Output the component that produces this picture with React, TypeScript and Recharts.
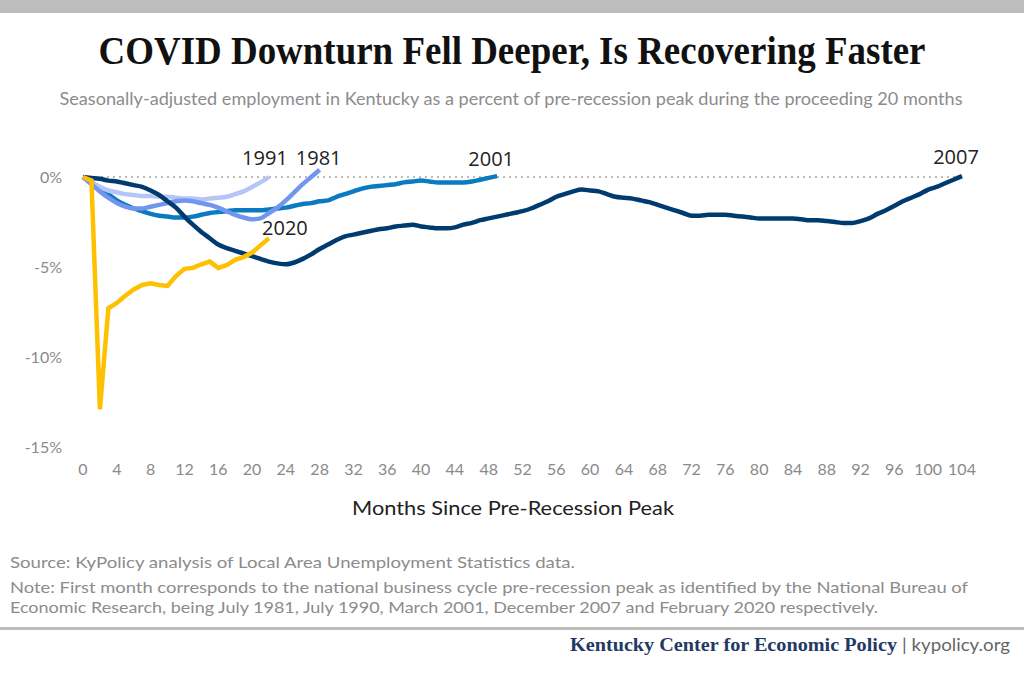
import { LineChart, Line, XAxis, YAxis, ReferenceLine } from 'recharts';

// percent of pre-recession peak employment, one value per month since the peak
const y1981 = [
  0, -0.4, -0.8, -1.15, -1.45, -1.65, -1.75, -1.75, -1.65, -1.55, -1.45, -1.35, -1.3, -1.35, -1.45,
  -1.55, -1.7, -1.9, -2.1, -2.25, -2.35, -2.3, -2.0, -1.7, -1.3, -0.85, -0.4, 0.0, 0.4,
];
const y1991 = [
  0, -0.3, -0.55, -0.75, -0.85, -0.95, -1.0, -1.05, -1.05, -1.1, -1.1, -1.15, -1.2, -1.2, -1.25,
  -1.2, -1.15, -1.1, -0.95, -0.8, -0.55, -0.3, 0,
];
const y2001 = [
  0, -0.3, -0.6, -0.95, -1.3, -1.55, -1.75, -1.9, -2.05, -2.15, -2.2, -2.25, -2.25, -2.2, -2.1,
  -2.0, -1.95, -1.9, -1.85, -1.85, -1.85, -1.85, -1.8, -1.75, -1.7, -1.6, -1.5, -1.45, -1.35, -1.3,
  -1.1, -0.95, -0.8, -0.65, -0.55, -0.5, -0.45, -0.4, -0.3, -0.25, -0.2, -0.25, -0.3, -0.3, -0.3,
  -0.3, -0.25, -0.15, -0.05, 0.05,
];
const y2007 = [
  0, -0.05, -0.1, -0.2, -0.25, -0.35, -0.45, -0.55, -0.75, -1.0, -1.35, -1.7, -2.2, -2.65, -3.05,
  -3.4, -3.75, -3.95, -4.1, -4.25, -4.4, -4.55, -4.7, -4.8, -4.85, -4.75, -4.55, -4.3, -4.0, -3.75,
  -3.5, -3.3, -3.2, -3.1, -3.0, -2.9, -2.85, -2.75, -2.7, -2.65, -2.75, -2.8, -2.85, -2.85, -2.8,
  -2.65, -2.55, -2.4, -2.3, -2.2, -2.1, -2.0, -1.9, -1.75, -1.55, -1.35, -1.1, -0.95, -0.8, -0.7,
  -0.75, -0.8, -0.95, -1.1, -1.15, -1.2, -1.3, -1.4, -1.55, -1.7, -1.85, -2.0, -2.15, -2.15, -2.1,
  -2.1, -2.1, -2.15, -2.2, -2.25, -2.3, -2.3, -2.3, -2.3, -2.3, -2.35, -2.4, -2.4, -2.45, -2.5,
  -2.55, -2.55, -2.45, -2.3, -2.05, -1.85, -1.6, -1.35, -1.15, -0.95, -0.7, -0.55, -0.35, -0.15, 0.05,
];
const y2020 = [
  0, -0.2, -12.9, -7.3, -7.0, -6.6, -6.25, -6.0, -5.9, -6.0, -6.05, -5.5, -5.1, -5.05, -4.85,
  -4.7, -5.05, -4.9, -4.6, -4.45, -4.2, -3.8, -3.4,
];

const monthTicks = [0, 4, 8, 12, 16, 20, 24, 28, 32, 36, 40, 44, 48, 52, 56, 60, 64, 68, 72, 76, 80, 84, 88, 92, 96, 100, 104];
const pctTicks = [-15, -10, -5, 0];

const series = [
  { key: 'y2001', name: '2001', values: y2001, color: '#0b7bc1', dx: -6, dy: -10 },
  { key: 'y1991', name: '1991', values: y1991, color: '#b3c6f7', dx: -4, dy: -12 },
  { key: 'y1981', name: '1981', values: y1981, color: '#7096ee', dx: -1, dy: -5 },
  { key: 'y2007', name: '2007', values: y2007, color: '#003b6f', dx: -6, dy: -12 },
  { key: 'y2020', name: '2020', values: y2020, color: '#ffc000', dx: 16, dy: -3 },
];

const table = y2007.map((_, month) => {
  const row: Record<string, number> = { month };
  series.forEach(s => {
    if (month < s.values.length) row[s.key] = s.values[month];
  });
  return row;
});

const sans = 'Lato, "Open Sans", sans-serif';
const serif = '"Liberation Serif", "DejaVu Serif", serif';

function endLabel(s: typeof series[number]) {
  return (props: any) => {
    const { x, y, index } = props;
    if (index !== s.values.length - 1 || x == null || y == null) return null;
    return (
      <text x={x + s.dx} y={y + s.dy} textAnchor="middle" fill="#222" fontSize={20} fontFamily='"Open Sans", sans-serif'>
        {s.name}
      </text>
    );
  };
}

export default function App() {
  return (
    <div style={{ position: 'absolute', left: 0, top: 0, width: 1024, height: 679, background: '#fff', overflow: 'hidden' }}>
      <svg width={1024} height={679} style={{ position: 'absolute', left: 0, top: 0 }}>
        <rect x={0} y={0} width={1024} height={13} fill="#bdbdbd" />
        <text x={512} y={64} textAnchor="middle" fontFamily={serif} fontWeight="bold" fontSize={40} fill="#111"
          textLength={827} lengthAdjust="spacingAndGlyphs">
          COVID Downturn Fell Deeper, Is Recovering Faster
        </text>
        <text x={511} y={105} textAnchor="middle" fontFamily={sans} fontSize={17} fill="#8c8c8c"
          textLength={903} lengthAdjust="spacingAndGlyphs">
          Seasonally-adjusted employment in Kentucky as a percent of pre-recession peak during the proceeding 20 months
        </text>
        <text x={513} y={515} textAnchor="middle" fontFamily={sans} fontSize={20} fill="#222"
          textLength={322} lengthAdjust="spacingAndGlyphs">
          Months Since Pre-Recession Peak
        </text>
        <text x={10} y={568} fontFamily={sans} fontSize={16} fill="#8c8c8c" textLength={565} lengthAdjust="spacingAndGlyphs">
          Source: KyPolicy analysis of Local Area Unemployment Statistics data.
        </text>
        <text x={10} y={593} fontFamily={sans} fontSize={16} fill="#8c8c8c" textLength={958} lengthAdjust="spacingAndGlyphs">
          Note: First month corresponds to the national business cycle pre-recession peak as identified by the National Bureau of
        </text>
        <text x={10} y={613} fontFamily={sans} fontSize={16} fill="#8c8c8c" textLength={868} lengthAdjust="spacingAndGlyphs">
          Economic Research, being July 1981, July 1990, March 2001, December 2007 and February 2020 respectively.
        </text>
        <rect x={0} y={627} width={1024} height={3} fill="#bdbdbd" />
        <text x={570} y={651} fontFamily={serif} fontWeight="bold" fontSize={19} fill="#1f3a64"
          textLength={327} lengthAdjust="spacingAndGlyphs">
          Kentucky Center for Economic Policy
        </text>
        <text x={902} y={651} fontFamily={sans} fontSize={17} fill="#666" textLength={108} lengthAdjust="spacingAndGlyphs">
          | kypolicy.org
        </text>
      </svg>
      <div style={{ position: 'absolute', left: 0, top: 0 }}>
        <LineChart width={1024} height={679} data={table} margin={{ top: 150, right: 62, bottom: 202, left: 23 }}>
          <XAxis
            dataKey="month"
            type="number"
            domain={[0, 104]}
            ticks={monthTicks}
            interval={0}
            height={30}
            axisLine={false}
            tickLine={false}
            tickSize={0}
            tickMargin={17}
            tick={{ fill: '#8a8a8a', fontSize: 16, fontFamily: sans }}
          />
          <YAxis
            type="number"
            domain={[-15, 1.5]}
            ticks={pctTicks}
            width={60}
            axisLine={false}
            tickLine={false}
            tickSize={0}
            tickMargin={21}
            tickFormatter={(v: number) => `${v}%`}
            tick={{ fill: '#8a8a8a', fontSize: 16, fontFamily: sans }}
          />
          <ReferenceLine y={0} stroke="#bbbbbb" strokeWidth={2} strokeDasharray="2 4" />
          {series.map(s => (
            <Line
              key={s.key}
              dataKey={s.key}
              type={s.key === 'y2020' ? 'linear' : 'monotone'}
              stroke={s.color}
              strokeWidth={4.5}
              dot={false}
              activeDot={false}
              isAnimationActive={false}
              label={endLabel(s)}
            />
          ))}
        </LineChart>
      </div>
    </div>
  );
}
